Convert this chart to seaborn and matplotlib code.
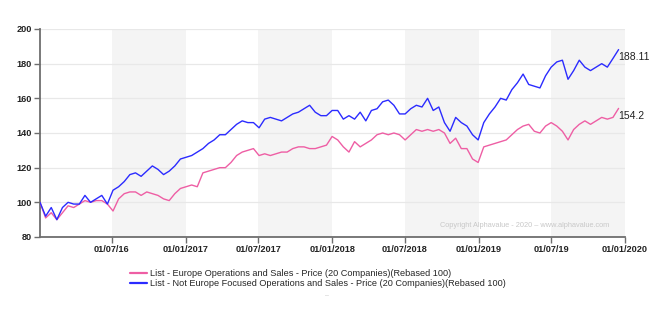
import matplotlib
matplotlib.use("Agg")
import matplotlib.pyplot as plt
import numpy as np
import pandas as pd
import seaborn as sns

# Fortnightly closes, both baskets rebased to 100 at the start of 2016
dates = pd.date_range("2016-01-04", periods=104, freq="14D")

europe = [
    100, 91, 94, 90, 94, 98, 97, 99, 101, 100, 101, 101, 99, 95, 102, 105,
    106, 106, 104, 106, 105, 104, 102, 101, 105, 108, 109, 110, 109, 117, 118, 119,
    120, 120, 123, 127, 129, 130, 131, 127, 128, 127, 128, 129, 129, 131, 132, 132,
    131, 131, 132, 133, 138, 136, 132, 129, 135, 132, 134, 136, 139, 140, 139, 140,
    139, 136, 139, 142, 141, 142, 141, 142, 140, 134, 137, 131, 131, 125, 123, 132,
    133, 134, 135, 136, 139, 142, 144, 145, 141, 140, 144, 146, 144, 141, 136, 142,
    145, 147, 145, 147, 149, 148, 149, 154.2,
]

not_europe = [
    100, 92, 97, 90, 97, 100, 99, 99, 104, 100, 102, 104, 99, 107, 109, 112,
    116, 117, 115, 118, 121, 119, 116, 118, 121, 125, 126, 127, 129, 131, 134, 136,
    139, 139, 142, 145, 147, 146, 146, 143, 148, 149, 148, 147, 149, 151, 152, 154,
    156, 152, 150, 150, 153, 153, 148, 150, 148, 152, 147, 153, 154, 158, 159, 156,
    151, 151, 154, 156, 155, 160, 153, 155, 146, 141, 149, 146, 144, 139, 136, 146,
    151, 155, 160, 159, 165, 169, 174, 168, 167, 166, 173, 178, 181, 182, 171, 176,
    182, 178, 176, 178, 180, 178, 183, 188.11,
]

series_names = [
    "List - Europe Operations and Sales - Price (20 Companies)(Rebased 100)",
    "List - Not Europe Focused Operations and Sales - Price (20 Companies)(Rebased 100)",
]
end_labels = ["154.2", "188.11"]

tick_dates = pd.to_datetime([
    "2016-07-01", "2017-01-01", "2017-07-01", "2018-01-01",
    "2018-07-01", "2019-01-01", "2019-07-01", "2020-01-01",
])
tick_labels = [
    "01/07/16", "01/01/2017", "01/07/2017", "01/01/2018",
    "01/07/2018", "01/01/2019", "01/07/19", "01/01/2020",
]

df = pd.DataFrame({
    "date": np.concatenate([dates, dates]),
    "value": europe + not_europe,
    "series": [series_names[0]] * len(dates) + [series_names[1]] * len(dates),
})

sns.set_theme(style="white")
plt.rcParams["font.family"] = ["Liberation Sans", "DejaVu Sans"]

pink = "#ee5ea4"
blue = "#2b2bff"
palette = {series_names[0]: pink, series_names[1]: blue}

fig = plt.figure(figsize=(6.71, 3.29), dpi=100)
ax = fig.add_axes([40 / 671, 1 - 237 / 329, 585 / 671, 208 / 329])

# Alternating half-year shading
for start, end in [("2016-07-01", "2017-01-01"), ("2017-07-01", "2018-01-01"),
                   ("2018-07-01", "2019-01-01"), ("2019-07-01", "2020-01-01")]:
    ax.axvspan(pd.Timestamp(start), pd.Timestamp(end), color="#f4f4f4", lw=0, zorder=0)

sns.lineplot(data=df, x="date", y="value", hue="series", palette=palette,
             linewidth=1.0, ax=ax, zorder=3)

ax.set_xlim(pd.Timestamp("2016-01-04"), pd.Timestamp("2020-01-01"))
ax.set_ylim(80, 200)
ax.set_yticks(range(80, 201, 20))
ax.set_xticks(tick_dates)
ax.set_xticklabels(tick_labels)
ax.set_xlabel("")
ax.set_ylabel("")

ax.yaxis.grid(True, color="#e8e8e8", lw=0.9, zorder=1)
ax.xaxis.grid(False)
ax.set_axisbelow(True)

for side in ["top", "right"]:
    ax.spines[side].set_visible(False)
for side in ["left", "bottom"]:
    ax.spines[side].set_color("#6e6e6e")
    ax.spines[side].set_linewidth(1.3)

ax.tick_params(axis="both", which="major", length=4, width=1, color="#6e6e6e",
               labelsize=6.6, labelcolor="#222222", pad=2, direction="out",
               bottom=True, left=True)
for lbl in ax.get_xticklabels() + ax.get_yticklabels():
    lbl.set_fontweight("bold")

# Last-value annotations
ax.annotate(end_labels[0], (dates[-1], europe[-1]), xytext=(0, -2),
            textcoords="offset points", fontsize=7.5, color="#222222",
            ha="left", va="top", annotation_clip=False)
ax.annotate(end_labels[1], (dates[-1], not_europe[-1]), xytext=(0, -2),
            textcoords="offset points", fontsize=7.5, color="#222222",
            ha="left", va="top", annotation_clip=False)

ax.text(0.973, 0.053, "Copyright Alphavalue - 2020 \u2013 www.alphavalue.com",
        transform=ax.transAxes, fontsize=5.3, color="#c8c8c8", ha="right", va="center")

sns.move_legend(ax, "upper left", bbox_to_anchor=(130 / 671, 1 - 269 / 329),
                bbox_transform=fig.transFigure, frameon=False, title=None,
                fontsize=6.55, handlelength=1.9, handletextpad=0.35,
                labelspacing=0.12, borderaxespad=0, borderpad=0)
for line in ax.get_legend().get_lines():
    line.set_linewidth(1.6)

fig.text(327 / 671, 1 - 296 / 329, "\u2013", fontsize=5, color="#cccccc",
         ha="center", va="center")

fig.savefig("out.png", dpi=100)
